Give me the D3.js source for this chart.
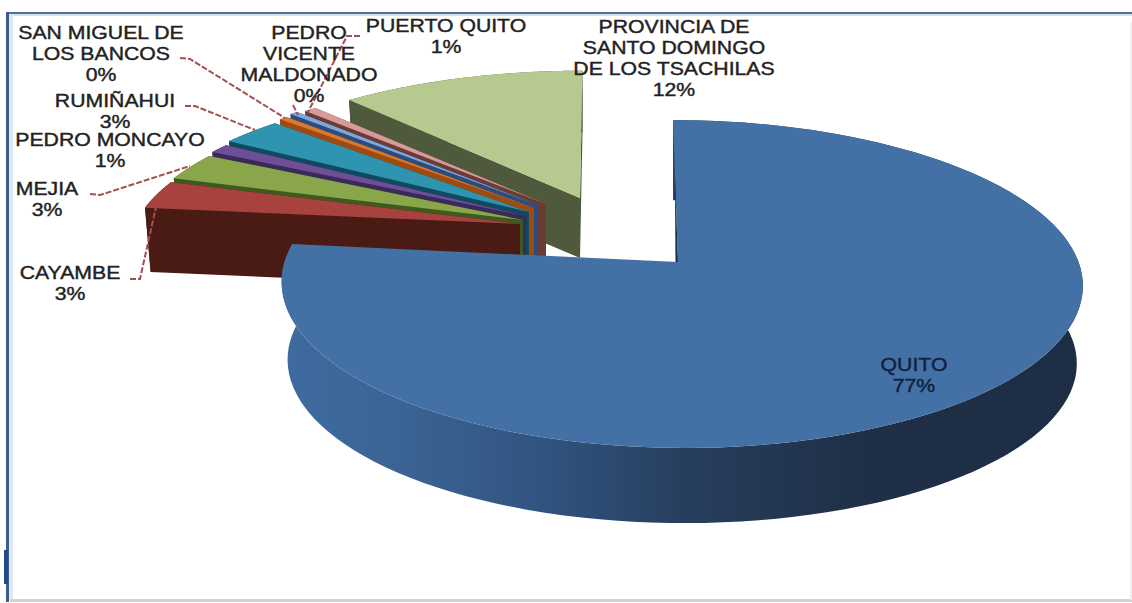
<!DOCTYPE html>
<html>
<head>
<meta charset="utf-8">
<script src="https://cdn.jsdelivr.net/npm/d3@7/dist/d3.min.js"></script>
<style>
  html, body { margin: 0; padding: 0; background: #fff; }
  svg { display: block; }
  text { font-family: "Liberation Sans", Arial, sans-serif; }
</style>
</head>
<body>
<svg id="chart" width="1132" height="603"></svg>
<script>
// Share of each canton, clockwise from twelve o'clock
const categories = ["QUITO", "CAYAMBE", "MEJIA", "PEDRO MONCAYO", "RUMIÑAHUI",
  "SAN MIGUEL DE LOS BANCOS", "PEDRO VICENTE MALDONADO", "PUERTO QUITO",
  "PROVINCIA DE SANTO DOMINGO DE LOS TSACHILAS"];
const shares = [76.8, 3, 3, 1, 3, 0.4, 0.4, 0.6, 11.8];

// Wedge colours: top face and extruded side
const topColors = ["#4471a5", "#a8423f", "#8aa64a", "#6e4e96", "#2f94b0", "#d9782e", "#7fa8d9", "#d59a99", "#b6c98f"];
const sideColors = ["#2a4468", "#4a1a14", "#3e5a1e", "#3a2a5c", "#0f4a60", "#9c4c10", "#2c4c80", "#6a3c36", "#4f5a3c"];

// Screen shift of each wedge away from the pie centre
const explodeX = [0, -158, -155, -152, -149, -144, -140, -132, -98];
const explodeY = [0, -38, -42, -46, -50, -54, -57, -58, -64];

// Perspective discs: Quito sits nearest, the exploded wedges further back
const nearDisc = { R: 397, H: 161, k: 0.134, shear: -5.7, bow: 3.5, depth: 78 };
const farDisc = { R: 385, H: 148, k: 0.186, shear: -3, bow: 0, depth: 64 };
const backDisc = { R: 392, H: 151, k: 0.186, shear: 3, bow: 0, depth: 60 };
const wedgeDisc = [nearDisc, farDisc, farDisc, farDisc, farDisc, farDisc, farDisc, farDisc, backDisc];
const bottomScale = 0.985;
const apex = { x: 678, y: 262 };

// Label text blocks and leader lines
const labelBlocks = [
  { i: 0, x: 914, y: 365, lines: ["QUITO"], fill: "#0f2140" },
  { i: 1, x: 70, y: 273, lines: ["CAYAMBE"] },
  { i: 2, x: 47, y: 189, lines: ["MEJIA"] },
  { i: 3, x: 110, y: 140, lines: ["PEDRO MONCAYO"] },
  { i: 4, x: 115, y: 101, lines: ["RUMIÑAHUI"] },
  { i: 5, x: 101, y: 33, lines: ["SAN MIGUEL DE", "LOS BANCOS"] },
  { i: 6, x: 309, y: 33, lines: ["PEDRO", "VICENTE", "MALDONADO"] },
  { i: 7, x: 446, y: 26, lines: ["PUERTO QUITO"] },
  { i: 8, x: 674, y: 27, lines: ["PROVINCIA DE", "SANTO DOMINGO", "DE LOS TSACHILAS"] }
];
const leaders = [
  [[130, 279], [140, 279], [156, 207]],
  [[90, 194], [100, 195], [190, 166]],
  [[185, 106], [195, 106], [255, 130]],
  [[180, 58], [190, 59], [285, 118]],
  [[293, 105], [298, 115]],
  [[360, 36], [347, 36], [308, 112]]
];

const svg = d3.select("#chart");
const defs = svg.append("defs");

const sideGradient = defs.append("linearGradient")
  .attr("id", "quitoSide").attr("gradientUnits", "userSpaceOnUse")
  .attr("x1", 280).attr("x2", 1085).attr("y1", 0).attr("y2", 0);
[[0, "#3f6ba0"], [0.15, "#3a6494"], [0.33, "#31537f"], [0.5, "#273f5e"], [0.72, "#1f2f47"], [1, "#1c2d44"]]
  .forEach(([o, c]) => sideGradient.append("stop").attr("offset", o).attr("stop-color", c));

// Chart frame
const frame = svg.append("g");
frame.append("rect").attr("width", 1132).attr("height", 603).attr("fill", "#fff");
frame.append("rect").attr("x", 6).attr("y", 12).attr("width", 1126).attr("height", 2).attr("fill", "#56709a");
frame.append("rect").attr("x", 6).attr("y", 14).attr("width", 1126).attr("height", 2).attr("fill", "#d6e2f0");
frame.append("rect").attr("x", 9).attr("y", 14).attr("width", 4).attr("height", 586).attr("fill", "#dfe8f3");
frame.append("rect").attr("x", 6).attr("y", 12).attr("width", 3).attr("height", 590).attr("fill", "#3f5d88");
frame.append("rect").attr("x", 4).attr("y", 550).attr("width", 4).attr("height", 34).attr("fill", "#1f4c8c");
frame.append("rect").attr("x", 10).attr("y", 599).attr("width", 1122).attr("height", 3).attr("fill", "#d2d2d2");
frame.append("rect").attr("x", 1130).attr("y", 22).attr("width", 2).attr("height", 578).attr("fill", "#f0f0f0");

const pie = d3.pie().sort(null).value(d => d);
const arcs = pie(shares);

// Projects a disc point (angle a clockwise from twelve o'clock, radius r) to the screen
function project(disc, origin, a, r, lower) {
  const u = Math.sin(a) * r, v = Math.cos(a) * r;
  const s = 1 / (1 + disc.k * v);
  const sc = lower ? bottomScale : 1;
  return [
    origin.x + sc * (disc.R * u + disc.shear * v) * s + disc.bow * u * u,
    origin.y + (lower ? disc.depth : 0) - sc * disc.H * v * s
  ];
}

const line = d3.line();
const pie3d = svg.append("g");

function drawWedge(d, i) {
  const disc = wedgeDisc[i];
  const origin = { x: apex.x + explodeX[i], y: apex.y + explodeY[i] };
  const angles = d3.range(0, 121).map(t => d.startAngle + (d.endAngle - d.startAngle) * t / 120);
  const upper = angles.map(a => project(disc, origin, a, 1, false));
  const lower = angles.map(a => project(disc, origin, a, 1, true));
  const g = pie3d.append("g").attr("class", "wedge");
  const side = i === 0 ? "url(#quitoSide)" : sideColors[i];

  // Outer rim
  g.append("path").attr("d", line(upper.concat(lower.slice().reverse())) + "Z").attr("fill", side);

  // Cut faces along both radii
  if (i > 0) {
    const cut = [[origin.x, origin.y], upper[0], lower[0], [origin.x, origin.y + disc.depth]];
    g.append("path").attr("d", line(cut) + "Z").attr("fill", side);
    const endCut = [[origin.x, origin.y], upper[120], lower[120], [origin.x, origin.y + disc.depth]];
    g.append("path").attr("d", line(endCut) + "Z").attr("fill", side);
  }

  // Top face
  g.append("path").attr("d", line([[origin.x, origin.y]].concat(upper)) + "Z").attr("fill", topColors[i]);

  // Shaded inner edge of the main wedge
  if (i === 0) {
    const tip = project(disc, origin, d.startAngle, 0.6, false);
    g.append("path")
      .attr("d", line([[origin.x, origin.y], tip, [origin.x - 2.5, origin.y]]) + "Z")
      .attr("fill", "#16304f");
  }
}

// Painted from the back wedge forward so nearer faces overlap further ones
arcs.map((d, i) => [d, i]).slice(1).reverse().forEach(([d, i]) => drawWedge(d, i));
drawWedge(arcs[0], 0);

// Leader lines
svg.append("g").selectAll("path").data(leaders).join("path")
  .attr("d", d => line(d))
  .attr("fill", "none")
  .attr("stroke", "#a54f50")
  .attr("stroke-width", 2)
  .attr("stroke-dasharray", "6 2");

// Data labels: name lines followed by the rounded share
const pct = d3.format(".0f");
const lineStep = 20.7;
const stretch = 1.18;
const labels = svg.append("g").selectAll("g").data(labelBlocks).join("g")
  .attr("transform", d => `translate(${d.x},${d.y}) scale(${stretch},1)`);
labels.each(function (b) {
  const rows = b.lines.concat(pct(shares[b.i]) + "%");
  d3.select(this).selectAll("text").data(rows).join("text")
    .attr("y", (r, k) => k * lineStep)
    .attr("dy", "0.36em")
    .attr("text-anchor", "middle")
    .attr("font-size", 18)
    .attr("fill", b.fill || "#222")
    .attr("stroke", b.fill || "#222")
    .attr("stroke-width", 0.4)
    .text(r => r);
});
</script>
</body>
</html>
